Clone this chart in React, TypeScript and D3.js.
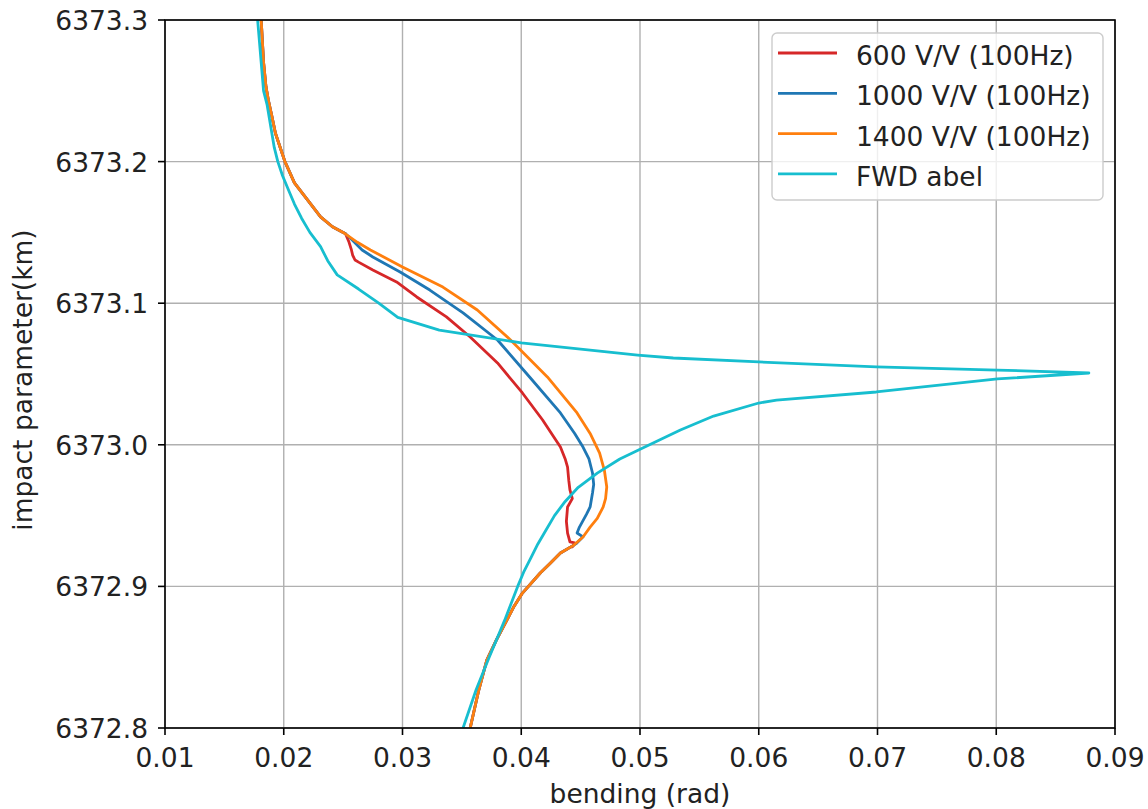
import React from "react";
import * as d3 from "d3";

// ---- data ----
const xTicks = [0.01, 0.02, 0.03, 0.04, 0.05, 0.06, 0.07, 0.08, 0.09];
const yTicks = [6372.8, 6372.9, 6373.0, 6373.1, 6373.2, 6373.3];

const seriesNames = ["600 V/V (100Hz)", "1000 V/V (100Hz)", "1400 V/V (100Hz)", "FWD abel"];
const seriesColors = ["#d62728", "#1f77b4", "#ff7f0e", "#17becf"];

// [bending (rad), impact parameter (km)]
const commonUpper: [number, number][] = [
  [0.0181, 6373.3], [0.0182, 6373.285], [0.0183, 6373.27], [0.0185, 6373.253], [0.0187, 6373.2435],
  [0.0190, 6373.232], [0.0193, 6373.22], [0.0197, 6373.21], [0.0201, 6373.2], [0.0209, 6373.185],
  [0.0220, 6373.173], [0.0231, 6373.161], [0.0241, 6373.154], [0.0250, 6373.15],
];

const commonLower: [number, number][] = [
  [0.0444, 6372.929], [0.0433, 6372.9236], [0.0424, 6372.916], [0.0416, 6372.9095], [0.0401, 6372.8953],
  [0.0394, 6372.886], [0.0388, 6372.8763], [0.0379, 6372.862], [0.0371, 6372.848], [0.0364, 6372.826],
  [0.0357, 6372.8],
];

const red600: [number, number][] = [
  [0.0252, 6373.149], [0.0255, 6373.143], [0.0257, 6373.1376], [0.0258, 6373.134], [0.0260, 6373.1305],
  [0.0263, 6373.129], [0.0275, 6373.1234], [0.0295, 6373.115], [0.0312, 6373.1044], [0.0337, 6373.0903],
  [0.0357, 6373.0761], [0.0380, 6373.0578], [0.0401, 6373.0366], [0.0418, 6373.0175], [0.0427, 6373.006],
  [0.0433, 6372.9984], [0.0437, 6372.99], [0.0439, 6372.9843], [0.0440, 6372.975], [0.0441, 6372.9681],
  [0.0443, 6372.962], [0.0439, 6372.9561], [0.0438, 6372.946], [0.0439, 6372.9377], [0.0441, 6372.9314],
  [0.0445, 6372.9307], [0.0443, 6372.928],
];

const blue1000: [number, number][] = [
  [0.0252, 6373.149], [0.0256, 6373.146], [0.0262, 6373.141], [0.0266, 6373.1376], [0.0275, 6373.1326],
  [0.0298, 6373.122], [0.0323, 6373.1093], [0.0351, 6373.0931], [0.0380, 6373.074], [0.0407, 6373.0479],
  [0.0433, 6373.0225], [0.0445, 6373.008], [0.0452, 6372.9984], [0.0457, 6372.99], [0.0460, 6372.9801],
  [0.0461, 6372.972], [0.0460, 6372.966], [0.0458, 6372.9561], [0.0455, 6372.951], [0.0449, 6372.9419],
  [0.0447, 6372.9377], [0.0452, 6372.935], [0.0446, 6372.930],
];

const orange1400: [number, number][] = [
  [0.0250, 6373.15], [0.0262, 6373.143], [0.0273, 6373.1376], [0.0300, 6373.1256], [0.0334, 6373.1114],
  [0.0363, 6373.0952], [0.0391, 6373.074], [0.0422, 6373.0479], [0.0447, 6373.0225], [0.0458, 6373.008],
  [0.0466, 6372.9942], [0.0470, 6372.982], [0.0472, 6372.9702], [0.0471, 6372.962], [0.0469, 6372.9561],
  [0.0464, 6372.948], [0.0458, 6372.9419], [0.0452, 6372.9349], [0.0446, 6372.9305],
];

const fwdAbel: [number, number][] = [
  [0.0178, 6373.3], [0.0183, 6373.25], [0.0186, 6373.24], [0.0192, 6373.21], [0.0195, 6373.2],
  [0.0199, 6373.19], [0.0204, 6373.18], [0.0209, 6373.17], [0.0215, 6373.16], [0.0222, 6373.15],
  [0.0231, 6373.14], [0.0237, 6373.13], [0.0245, 6373.12], [0.0263, 6373.11], [0.0280, 6373.1],
  [0.0296, 6373.09], [0.0331, 6373.081], [0.0400, 6373.072], [0.0498, 6373.0634], [0.0528, 6373.0613],
  [0.0600, 6373.0585], [0.0699, 6373.055], [0.0801, 6373.0528], [0.0878, 6373.0507], [0.0801, 6373.0465],
  [0.0699, 6373.0373], [0.0615, 6373.0316], [0.0600, 6373.0295], [0.0562, 6373.0203], [0.0534, 6373.0105],
  [0.0508, 6373.0], [0.0483, 6372.99], [0.0464, 6372.98], [0.0448, 6372.97], [0.0437, 6372.96],
  [0.0428, 6372.95], [0.0421, 6372.94], [0.0414, 6372.93], [0.0408, 6372.92], [0.0402, 6372.91],
  [0.0397, 6372.9], [0.0386, 6372.876], [0.0373, 6372.85], [0.0362, 6372.827], [0.0351, 6372.8],
];

const W = 1148;
const H = 809;
const M = { left: 165, right: 1115, top: 20, bottom: 728 };
const FONT = "'DejaVu Sans', sans-serif";
const FS = 26.5;

export default function App() {
  const x = d3.scaleLinear().domain([0.01, 0.09]).range([M.left, M.right]);
  const y = d3.scaleLinear().domain([6372.8, 6373.3]).range([M.bottom, M.top]);
  const line = d3
    .line<[number, number]>()
    .x((d) => x(d[0]))
    .y((d) => y(d[1]));

  const series: [number, number][][] = [
    [...commonUpper, ...red600, ...commonLower],
    [...commonUpper, ...blue1000, ...commonLower],
    [...commonUpper, ...orange1400, ...commonLower],
    fwdAbel,
  ];

  const legX = 772;
  const legY = 33;
  const rowH = 40.3;

  return (
    <svg
      width={W}
      height={H}
      style={{ position: "absolute", left: 0, top: 0, background: "#fff" }}
      fontFamily={FONT}
    >
      <rect x={0} y={0} width={W} height={H} fill="#fff" />
      <defs>
        <clipPath id="plotclip">
          <rect x={M.left} y={M.top} width={M.right - M.left} height={M.bottom - M.top} />
        </clipPath>
      </defs>
      {/* grid */}
      {xTicks.map((t) => (
        <line key={"gx" + t} x1={x(t)} x2={x(t)} y1={M.top} y2={M.bottom} stroke="#b0b0b0" strokeWidth={1.4} />
      ))}
      {yTicks.map((t) => (
        <line key={"gy" + t} x1={M.left} x2={M.right} y1={y(t)} y2={y(t)} stroke="#b0b0b0" strokeWidth={1.4} />
      ))}
      {/* series */}
      <g clipPath="url(#plotclip)">
        {series.map((s, i) => (
          <path
            key={i}
            d={line(s) || ""}
            fill="none"
            stroke={seriesColors[i]}
            strokeWidth={2.8}
            strokeLinejoin="round"
          />
        ))}
      </g>
      {/* spines */}
      <rect
        x={M.left}
        y={M.top}
        width={M.right - M.left}
        height={M.bottom - M.top}
        fill="none"
        stroke="#000"
        strokeWidth={1.6}
      />
      {/* x ticks */}
      {xTicks.map((t) => (
        <g key={"tx" + t}>
          <line x1={x(t)} x2={x(t)} y1={M.bottom} y2={M.bottom + 7} stroke="#000" strokeWidth={1.6} />
          <text x={x(t)} y={767} textAnchor="middle" fontSize={FS} fill="#222">
            {d3.format(".2f")(t)}
          </text>
        </g>
      ))}
      {/* y ticks */}
      {yTicks.map((t) => (
        <g key={"ty" + t}>
          <line x1={M.left - 7} x2={M.left} y1={y(t)} y2={y(t)} stroke="#000" strokeWidth={1.6} />
          <text x={M.left - 17} y={y(t) + 10} textAnchor="end" fontSize={FS} fill="#222">
            {d3.format(".1f")(t)}
          </text>
        </g>
      ))}
      {/* axis labels */}
      <text x={640} y={803} textAnchor="middle" fontSize={FS} fill="#222">
        bending (rad)
      </text>
      <text
        transform={`translate(32, 380) rotate(-90)`}
        textAnchor="middle"
        fontSize={FS}
        fill="#222"
      >
        impact parameter(km)
      </text>
      {/* legend */}
      <rect
        x={legX}
        y={legY}
        width={331}
        height={167}
        rx={5}
        fill="#fff"
        fillOpacity={0.8}
        stroke="#cccccc"
        strokeWidth={1.4}
      />
      {seriesNames.map((n, i) => (
        <g key={n}>
          <line
            x1={778}
            x2={837}
            y1={legY + 20 + i * rowH}
            y2={legY + 20 + i * rowH}
            stroke={seriesColors[i]}
            strokeWidth={2.8}
          />
          <text x={856} y={legY + 32 + i * rowH} fontSize={FS} fill="#222">
            {n}
          </text>
        </g>
      ))}
    </svg>
  );
}
